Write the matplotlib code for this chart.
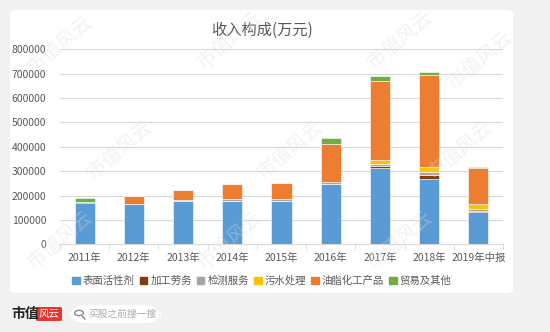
import matplotlib
matplotlib.use("Agg")
import matplotlib.pyplot as plt
from matplotlib.patches import FancyBboxPatch, Rectangle, Circle
from matplotlib.lines import Line2D
import numpy as np

plt.rcParams["font.family"] = ["Noto Sans CJK SC", "DejaVu Sans"]

years = ["2011年", "2012年", "2013年", "2014年", "2015年", "2016年", "2017年", "2018年", "2019年中报"]
segments = ["表面活性剂", "加工劳务", "检测服务", "污水处理", "油脂化工产品", "贸易及其他"]

# revenue by segment, 万元
surfactant = [168000, 165000, 179000, 176000, 176000, 247000, 315000, 266000, 134000]
processing = [5000, 0, 0, 2000, 2000, 0, 7000, 17000, 4000]
testing = [1000, 2000, 2000, 6000, 6000, 8000, 9000, 13000, 7000]
sewage = [0, 0, 0, 0, 0, 2000, 13000, 23000, 21000]
oleochem = [0, 31000, 42000, 62000, 66000, 153000, 327000, 375000, 145000]
trade = [17000, 0, 0, 0, 0, 27000, 19000, 13000, 5000]

series = [surfactant, processing, testing, sewage, oleochem, trade]
colors = ["#5B9BD5", "#843C0C", "#A5A5A5", "#FFC000", "#ED7D31", "#70AD47"]

TEXT = "#595959"

fig = plt.figure(figsize=(5.5, 3.32), dpi=100)
fig.patch.set_facecolor("#f1f1f1")

# white card behind the chart
card = FancyBboxPatch((10 / 550, 1 - 293 / 332), 503 / 550, 283 / 332,
                      boxstyle="round,pad=0,rounding_size=0.012",
                      transform=fig.transFigure, facecolor="white",
                      edgecolor="none", zorder=-10)
fig.patches.append(card)

ax = fig.add_axes([60 / 550, 1 - 244.3 / 332, 443 / 550, (244.3 - 49.3) / 332])
ax.set_facecolor("none")
ax.set_zorder(1)

x = np.arange(len(years))
bottom = np.zeros(len(years))
for name, vals, c in zip(segments, series, colors):
    vals = np.array(vals, dtype=float)
    ax.bar(x, vals, width=0.41, bottom=bottom, color=c, label=name,
           edgecolor="white", linewidth=0.4, zorder=3)
    bottom += vals

ax.set_xlim(-0.5, len(years) - 0.5)
ax.set_ylim(0, 800000)
ax.set_yticks(np.arange(0, 800001, 100000))
ax.set_yticklabels([f"{v}" for v in range(0, 800001, 100000)])
ax.yaxis.grid(True, color="#d9d9d9", linewidth=0.8, zorder=0)
ax.set_xticks(x)
ax.set_xticklabels(years)
ax.set_xticks(np.arange(-0.5, len(years), 1), minor=True)
ax.tick_params(axis="x", which="major", length=0, pad=6, labelsize=7.5, colors=TEXT)
ax.tick_params(axis="x", which="minor", length=4, color="#d9d9d9")
ax.tick_params(axis="y", length=0, labelsize=7.5, colors=TEXT, pad=10)
for s in ["top", "right", "left"]:
    ax.spines[s].set_visible(False)
ax.spines["bottom"].set_color("#d9d9d9")

fig.text(262 / 550, 1 - 30 / 332, "收入构成(万元)", ha="center", va="center",
         fontsize=11, color=TEXT)

handles = [Rectangle((0, 0), 1, 1, color=c) for c in colors]
fig.legend(handles, segments, loc="center", bbox_to_anchor=(262 / 550, 1 - 281 / 332),
           ncol=6, frameon=False, fontsize=7.5, labelcolor=TEXT,
           handlelength=0.7, handleheight=0.7, handletextpad=0.3, columnspacing=0.5)

# watermark
for wx, wy in [(60, 45), (230, 40), (400, 40), (120, 150), (290, 150), (460, 150),
               (60, 240), (230, 240), (400, 240), (480, 60)]:
    fig.text(wx / 550, 1 - wy / 332, "市值风云", rotation=40, fontsize=14,
             color="#dcdcdc", alpha=0.35, ha="center", va="center", zorder=10)

# footer brand and search box
fig.text(11 / 550, 1 - 314 / 332, "市值", fontsize=10, fontweight="bold",
         color="#222222", va="center", ha="left")
logo = FancyBboxPatch((36 / 550, 1 - 321 / 332), 26 / 550, 14 / 332,
                      boxstyle="round,pad=0,rounding_size=0.004",
                      transform=fig.transFigure, facecolor="#e8372c", edgecolor="none")
fig.patches.append(logo)
fig.text(49 / 550, 1 - 314 / 332, "风云", fontsize=7.5, fontstyle="italic",
         color="white", va="center", ha="center")
pill = FancyBboxPatch((69 / 550, 1 - 323 / 332), 92 / 550, 18 / 332,
                      boxstyle="round,pad=0,rounding_size=0.03",
                      transform=fig.transFigure, facecolor="white", edgecolor="none",
                      mutation_aspect=550 / 332)
fig.patches.append(pill)
fig.patches.append(Circle((79 / 550, 1 - 313 / 332), 0.008, transform=fig.transFigure,
                          fill=False, edgecolor="#888888", linewidth=1.0))
fig.lines.append(Line2D([82.5 / 550, 85 / 550], [1 - 316.5 / 332, 1 - 319 / 332],
                        transform=fig.transFigure, color="#888888", linewidth=1.0))
fig.text(88 / 550, 1 - 314 / 332, "买股之前搜一搜", fontsize=7, color="#aaaaaa",
         va="center", ha="left")

fig.savefig("out.png", dpi=100, facecolor=fig.get_facecolor())
